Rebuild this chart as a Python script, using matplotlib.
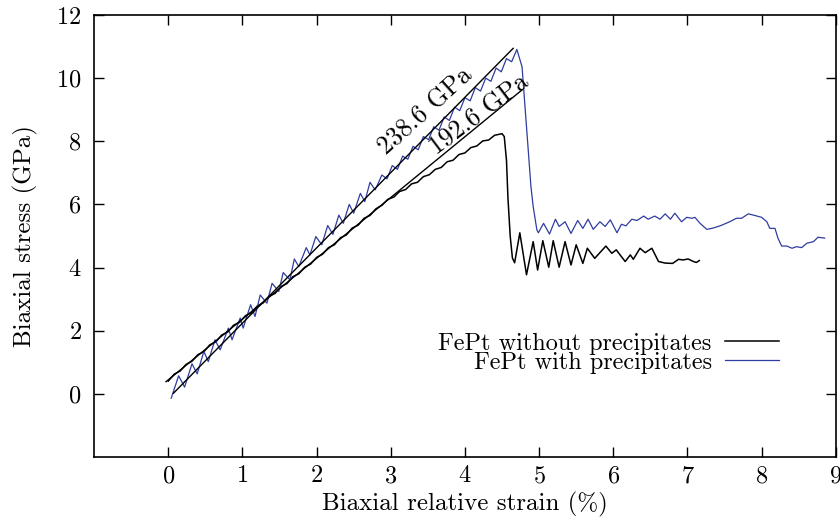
import numpy as np
import matplotlib
matplotlib.use("Agg")
import matplotlib.pyplot as plt

# Computer Modern look (gnuplot / LaTeX style)
plt.rcParams['font.family'] = 'serif'
plt.rcParams['font.serif'] = ['cmr10']
plt.rcParams['mathtext.fontset'] = 'cm'
plt.rcParams['axes.formatter.use_mathtext'] = True

# --- data (strain in %, stress in GPa) ---
# FePt without precipitates
black_x = [0.00, 0.08, 0.16, 0.24, 0.32, 0.40, 0.48, 0.56, 0.64, 0.72, 0.80, 0.88,
           0.96, 1.04, 1.12, 1.20, 1.28, 1.36, 1.44, 1.52, 1.60, 1.68, 1.76, 1.84,
           1.92, 2.00, 2.08, 2.16, 2.24, 2.32, 2.40, 2.48, 2.56, 2.64, 2.72, 2.80,
           2.88, 2.96, 3.04, 3.12, 3.20, 3.28, 3.36, 3.44, 3.52, 3.60, 3.68, 3.76,
           3.84, 3.92, 4.00, 4.08, 4.16, 4.24, 4.32, 4.40, 4.46, 4.50, 4.53, 4.56,
           4.58, 4.61, 4.64, 4.67, 4.74, 4.83, 4.92, 4.98, 5.05, 5.13, 5.19, 5.27,
           5.35, 5.43, 5.50, 5.59, 5.65, 5.75, 5.90, 5.98, 6.04, 6.16, 6.23, 6.27,
           6.36, 6.43, 6.52, 6.61, 6.70, 6.80, 6.88, 6.94, 7.01, 7.08, 7.12, 7.16]
black_y = [0.40, 0.62, 0.72, 0.93, 1.03, 1.24, 1.33, 1.55, 1.64, 1.86, 1.95, 2.17,
           2.26, 2.47, 2.57, 2.78, 2.88, 3.09, 3.18, 3.40, 3.49, 3.71, 3.80, 4.01,
           4.11, 4.32, 4.42, 4.63, 4.72, 4.94, 5.03, 5.25, 5.34, 5.56, 5.65, 5.86,
           5.97, 6.16, 6.23, 6.41, 6.47, 6.65, 6.70, 6.88, 6.94, 7.11, 7.17, 7.35,
           7.40, 7.58, 7.63, 7.80, 7.85, 8.01, 8.04, 8.19, 8.22, 8.24, 8.15, 7.40,
           6.20, 5.00, 4.30, 4.15, 5.10, 3.77, 4.82, 3.92, 4.85, 4.01, 4.85, 4.01,
           4.82, 4.08, 4.72, 4.13, 4.61, 4.29, 4.68, 4.45, 4.56, 4.19, 4.40, 4.26,
           4.61, 4.47, 4.61, 4.19, 4.14, 4.13, 4.26, 4.24, 4.27, 4.19, 4.16, 4.22]

# FePt with precipitates
blue_x = [0.04, 0.14, 0.22, 0.32, 0.39, 0.48, 0.54, 0.63, 0.70, 0.81, 0.86, 0.97,
          1.01, 1.11, 1.17, 1.24, 1.33, 1.40, 1.49, 1.55, 1.64, 1.70, 1.76, 1.86,
          1.91, 1.99, 2.07, 2.15, 2.22, 2.30, 2.36, 2.44, 2.50, 2.59, 2.65, 2.72,
          2.79, 2.88, 2.95, 3.02, 3.09, 3.16, 3.23, 3.30, 3.37, 3.44, 3.51, 3.58,
          3.65, 3.72, 3.79, 3.86, 3.93, 4.00, 4.07, 4.14, 4.21, 4.28, 4.35, 4.42,
          4.49, 4.56, 4.63, 4.70, 4.77, 4.81, 4.86, 4.89, 4.92, 4.97, 4.99, 5.06,
          5.14, 5.22, 5.27, 5.35, 5.43, 5.52, 5.59, 5.66, 5.73, 5.82, 5.89, 5.96,
          6.05, 6.11, 6.17, 6.25, 6.32, 6.41, 6.47, 6.56, 6.63, 6.70, 6.77, 6.83,
          6.92, 6.99, 7.06, 7.10, 7.17, 7.26, 7.33, 7.44, 7.57, 7.66, 7.73, 7.82,
          7.89, 8.00, 8.07, 8.11, 8.18, 8.22, 8.27, 8.34, 8.41, 8.47, 8.54, 8.61,
          8.70, 8.76, 8.85]
blue_y = [-0.14, 0.57, 0.21, 0.95, 0.63, 1.34, 1.02, 1.71, 1.39, 2.08, 1.71, 2.40,
          2.08, 2.82, 2.45, 3.13, 2.87, 3.50, 3.24, 3.84, 3.61, 4.27, 4.03, 4.63,
          4.40, 4.98, 4.72, 5.33, 5.05, 5.66, 5.40, 6.00, 5.72, 6.35, 6.09, 6.70,
          6.46, 6.93, 6.81, 7.23, 7.11, 7.53, 7.43, 7.84, 7.73, 8.15, 8.05, 8.46,
          8.35, 8.77, 8.66, 9.08, 8.97, 9.38, 9.28, 9.70, 9.59, 10.00, 9.90, 10.32,
          10.20, 10.62, 10.52, 10.91, 10.36, 9.09, 7.51, 6.56, 5.93, 5.19, 5.10, 5.40,
          5.06, 5.53, 5.30, 5.45, 5.08, 5.49, 5.24, 5.53, 5.21, 5.45, 5.30, 5.51,
          5.10, 5.37, 5.32, 5.53, 5.49, 5.63, 5.53, 5.63, 5.53, 5.70, 5.53, 5.72,
          5.45, 5.59, 5.56, 5.59, 5.40, 5.21, 5.24, 5.32, 5.45, 5.56, 5.56, 5.70,
          5.66, 5.59, 5.45, 5.24, 5.24, 4.93, 4.68, 4.68, 4.61, 4.66, 4.63, 4.77,
          4.82, 4.96, 4.93]

# linear fits: biaxial modulus (GPa), intercept (GPa), strain range (%)
fit_moduli = [238.6, 192.6]
fit_intercepts = [-0.15, 0.44]
fit_ranges = [(0.07, 4.65), (-0.03, 4.77)]
fit_label_pos = [(2.95, 7.55), (3.62, 7.55)]
fit_label_rot = [42, 37]

blue_col = '#2f3d9e'

fig = plt.figure(figsize=(8.4, 5.18), dpi=100)
ax = fig.add_axes([0.112, 0.118, 0.883, 0.853])

ax.plot(black_x, black_y, color='black', lw=1.1, solid_joinstyle='round',
        label='FePt without precipitates')
ax.plot(blue_x, blue_y, color=blue_col, lw=0.9, solid_joinstyle='round',
        label='FePt with precipitates')

for mod, b, (x0, x1), (tx, ty), rot in zip(fit_moduli, fit_intercepts, fit_ranges,
                                           fit_label_pos, fit_label_rot):
    xs = np.array([x0, x1])
    ax.plot(xs, mod / 100.0 * xs + b, color='black', lw=1.0)
    ax.text(tx, ty, f'{mod:.1f} GPa', rotation=rot, rotation_mode='anchor',
            ha='left', va='baseline', fontsize=18.5)

ax.set_xlim(-1, 9)
ax.set_ylim(-2, 12)
ax.set_xticks(range(0, 10))
ax.set_yticks(range(0, 13, 2))
ax.tick_params(direction='in', length=7, width=1.0, top=True, right=True,
               labelsize=17.5)
ax.tick_params(axis='x', pad=6)
ax.tick_params(axis='y', pad=9)
for s in ax.spines.values():
    s.set_linewidth(1.2)

ax.set_xlabel('Biaxial relative strain (%)', fontsize=18, labelpad=3)
ax.set_ylabel('Biaxial stress (GPa)', fontsize=18, labelpad=13)

ax.legend(loc='center right', bbox_to_anchor=(0.923, 0.235), frameon=False,
          markerfirst=False, fontsize=17.5, handlelength=2.2, handletextpad=0.55,
          labelspacing=-0.13, borderpad=0, borderaxespad=0)

fig.savefig('out.png', dpi=100)
